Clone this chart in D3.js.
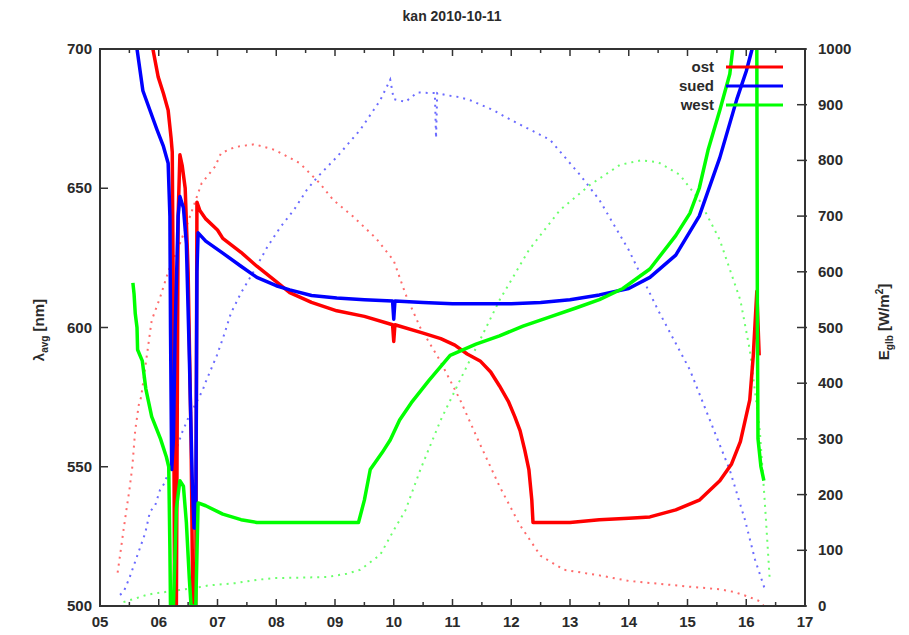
<!DOCTYPE html>
<html>
<head>
<meta charset="utf-8">
<script src="https://cdn.jsdelivr.net/npm/d3@7"></script>
<style>
  body { margin: 0; background: #fff; }
  text { font-family: "Liberation Sans", Arial, sans-serif; fill: #2a2a2a; font-weight: bold; }
</style>
</head>
<body>
<svg id="chart" width="909" height="635"></svg>
<script>
// hours of day vs. wavelength (nm) for the solid lines
const ostLambda = [[5.90,700],[5.99,690],[6.08,684],[6.16,678],[6.21,668],[6.23,663],[6.25,600],[6.27,500],[6.30,500],[6.33,640],[6.36,662],[6.40,658],[6.45,650],[6.50,620],[6.55,560],[6.58,500],[6.63,500],[6.65,645],[6.70,642],[6.80,639],[7.00,635],[7.09,632],[7.40,627],[7.67,622],[8.00,616.5],[8.23,612.5],[8.60,609],[9.03,606],[9.50,604],[9.98,601],[10.00,595],[10.02,601],[10.50,598],[10.80,596],[11.04,593.7],[11.25,590.5],[11.47,588],[11.65,584],[11.80,579],[11.95,573.5],[12.06,568],[12.15,563],[12.23,556],[12.30,549],[12.35,538],[12.37,530],[13.00,530],[13.50,531],[14.00,531.5],[14.36,532],[14.80,534.5],[15.20,538],[15.55,545],[15.75,551],[15.90,559],[16.06,574],[16.12,590],[16.18,613],[16.22,590]];
const suedLambda = [[5.63,700],[5.73,685],[5.85,678],[5.97,671],[6.08,665],[6.16,659],[6.19,640],[6.20,600],[6.22,549],[6.25,560],[6.28,600],[6.33,640],[6.36,647],[6.42,643],[6.47,630],[6.52,590],[6.57,545],[6.60,528],[6.63,528],[6.65,620],[6.67,634],[6.80,631],[7.09,626.7],[7.40,622],[7.67,618],[8.00,615],[8.23,613.5],[8.60,611.5],[9.03,610.6],[9.50,610],[9.98,609.5],[10.00,603],[10.02,609.5],[10.50,609],[11.00,608.5],[11.50,608.5],[12.00,608.5],[12.50,609],[13.00,610],[13.50,611.7],[14.00,614],[14.36,618],[14.80,626],[15.20,640],[15.55,661],[15.84,682],[16.00,692],[16.10,700]];
const westLambda = [[5.56,616],[5.58,612],[5.60,605],[5.63,600],[5.64,592],[5.72,588],[5.78,578],[5.88,568],[6.03,560],[6.13,553.5],[6.17,550],[6.19,520],[6.20,500],[6.25,500],[6.30,535],[6.36,545],[6.42,543],[6.47,530],[6.52,510],[6.55,500],[6.63,500],[6.67,537],[6.80,536],[7.09,533],[7.40,531],[7.67,530],[9.40,530],[9.50,538],[9.60,549],[9.80,555],[9.94,559.6],[10.10,566.8],[10.30,573],[10.60,581],[10.96,590],[11.40,594],[11.80,597],[12.20,600.5],[12.66,603.8],[13.10,607],[13.50,610],[13.90,614],[14.36,621],[14.80,633],[15.04,641],[15.20,650],[15.35,663.7],[15.55,678],[15.72,691],[15.77,700],[15.9,null],[16.18,700],[16.19,600],[16.20,560],[16.25,550],[16.30,545]];

// hours of day vs. global irradiance (W/m2) for the dotted series
const ostE = [[5.30,60],[5.34,90],[5.40,136],[5.46,180],[5.50,208],[5.55,250],[5.60,316],[5.66,361],[5.70,375],[5.88,513],[6.02,553],[6.17,603],[6.34,645],[6.50,690],[6.63,729],[6.73,759],[6.96,789],[7.06,813],[7.30,824],[7.63,829],[7.97,819],[8.40,795],[8.74,759],[8.97,729],[9.30,700],[9.70,660],[10.00,620],[10.20,560],[10.45,500],[10.79,440],[11.13,370],[11.47,290],[11.80,215],[12.15,145],[12.50,90],[12.90,65],[13.50,55],[14.00,45],[14.50,40],[15.00,35],[15.55,30],[15.80,25],[16.00,18],[16.20,10],[16.30,0]];
const suedE = [[5.34,20],[5.40,25],[5.50,50],[5.60,80],[5.68,104],[5.77,131],[5.85,169],[5.94,181],[6.02,208],[6.10,221],[6.40,312],[6.50,337],[6.75,388],[6.79,400],[6.99,450],[7.10,483],[7.23,526],[7.40,562],[7.63,603],[7.85,645],[8.07,680],[8.30,711],[8.52,747],[8.70,770],[9.03,806],[9.43,855],[9.77,908],[9.94,945],[10.00,910],[10.20,905],[10.40,922],[10.60,921],[10.70,921],[10.72,840],[10.74,921],[10.90,917],[11.10,914],[11.30,908],[11.70,890],[11.90,878],[12.10,867],[12.66,837],[13.17,774],[13.50,729],[14.00,639],[14.50,531],[15.04,424],[15.38,334],[15.72,244],[15.98,154],[16.15,83],[16.32,29]];
const westE = [[5.40,7],[5.80,20],[5.90,22],[6.70,34],[6.85,37],[7.30,41],[7.67,47],[7.95,50],[8.87,52],[9.20,58],[9.43,65],[9.77,92],[10.00,136],[10.20,172],[10.45,244],[10.80,334],[11.13,406],[11.47,478],[11.80,549],[12.30,639],[12.83,711],[13.34,756],[13.85,792],[14.20,800],[14.50,797],[14.87,774],[15.20,729],[15.55,657],[15.90,549],[16.06,460],[16.23,316],[16.32,180],[16.40,47]];

const hourTicks = ["05","06","07","08","09","10","11","12","13","14","15","16","17"];
const lambdaTicks = [500, 550, 600, 650, 700];
const eTicks = [0, 100, 200, 300, 400, 500, 600, 700, 800, 900, 1000];
const seriesNames = ["ost", "sued", "west"];
const lineColors = ["#ff0000", "#0000ff", "#00ff00"];
const dotColors = ["#ff6b6b", "#6b6bff", "#6bff6b"];

const plotL = 100, plotR = 805, plotT = 49, plotB = 606;
const svg = d3.select("#chart");

const x = d3.scaleLinear().domain([5, 17]).range([plotL, plotR]);
const yL = d3.scaleLinear().domain([500, 700]).range([plotB, plotT]);
const yR = d3.scaleLinear().domain([0, 1000]).range([plotB, plotT]);

svg.append("defs").append("clipPath").attr("id", "plot")
  .append("rect").attr("x", plotL).attr("y", plotT).attr("width", plotR - plotL).attr("height", plotB - plotT);

const plot = svg.append("g").attr("clip-path", "url(#plot)");

// dotted irradiance series first, lines on top
[ostE, suedE, westE].forEach((data, i) => {
  plot.append("path").datum(data)
    .attr("fill", "none").attr("stroke", dotColors[i]).attr("stroke-width", 2)
    .attr("stroke-dasharray", "2 5")
    .attr("d", d3.line().x(d => x(d[0])).y(d => yR(d[1])));
});

[ostLambda, suedLambda, westLambda].forEach((data, i) => {
  plot.append("path").datum(data)
    .attr("fill", "none").attr("stroke", lineColors[i]).attr("stroke-width", 3.5)
    .attr("stroke-linejoin", "round")
    .attr("d", d3.line().defined(d => d[1] != null).x(d => x(d[0])).y(d => yL(d[1])));
});

// frame
svg.append("rect").attr("x", plotL).attr("y", plotT).attr("width", plotR - plotL).attr("height", plotB - plotT)
  .attr("fill", "none").attr("stroke", "#333").attr("stroke-width", 2);

const ticks = svg.append("g").attr("stroke", "#333").attr("stroke-width", 1.5);
d3.range(5, 17.01, 0.5).forEach(h => {
  const len = Number.isInteger(h) ? 7 : 4;
  ticks.append("line").attr("x1", x(h)).attr("x2", x(h)).attr("y1", plotB).attr("y2", plotB - len);
  ticks.append("line").attr("x1", x(h)).attr("x2", x(h)).attr("y1", plotT).attr("y2", plotT + len);
});
lambdaTicks.forEach(v => ticks.append("line").attr("x1", plotL).attr("x2", plotL + 8).attr("y1", yL(v)).attr("y2", yL(v)));
eTicks.forEach(v => ticks.append("line").attr("x1", plotR - 8).attr("x2", plotR + 2).attr("y1", yR(v)).attr("y2", yR(v)));

// tick labels
svg.append("g").selectAll("text").data(hourTicks).join("text")
  .attr("x", (d, i) => x(5 + i)).attr("y", 627).attr("text-anchor", "middle")
  .attr("font-size", 15).text(d => d);
svg.append("g").selectAll("text").data(lambdaTicks).join("text")
  .attr("x", 92).attr("y", d => yL(d) + 5).attr("text-anchor", "end")
  .attr("font-size", 15).text(d => d);
svg.append("g").selectAll("text").data(eTicks).join("text")
  .attr("x", 818).attr("y", d => yR(d) + 5).attr("text-anchor", "start")
  .attr("font-size", 15).text(d => d);

// title and axis titles
svg.append("text").attr("x", 452).attr("y", 21).attr("text-anchor", "middle").attr("font-size", 14).text("kan 2010-10-11");

const yl = svg.append("text").attr("transform", "translate(44,330) rotate(-90)").attr("text-anchor", "middle").attr("font-size", 15);
yl.append("tspan").text("λ");
yl.append("tspan").attr("font-size", 10).attr("dy", 4).text("avg");
yl.append("tspan").attr("dy", -4).text(" [nm]");

const yr = svg.append("text").attr("transform", "translate(889,322) rotate(-90)").attr("text-anchor", "middle").attr("font-size", 15);
yr.append("tspan").text("E");
yr.append("tspan").attr("font-size", 10).attr("dy", 4).text("glb");
yr.append("tspan").attr("dy", -4).text(" [W/m");
yr.append("tspan").attr("font-size", 10).attr("dy", -6).text("2");
yr.append("tspan").attr("dy", 6).text("]");

// legend
const legend = svg.append("g");
seriesNames.forEach((name, i) => {
  const ly = 67 + i * 19;
  legend.append("text").attr("x", 714).attr("y", ly + 5).attr("text-anchor", "end").attr("font-size", 15).text(name);
  legend.append("line").attr("x1", 726).attr("x2", 783).attr("y1", ly).attr("y2", ly)
    .attr("stroke", lineColors[i]).attr("stroke-width", 3);
});
</script>
</body>
</html>
